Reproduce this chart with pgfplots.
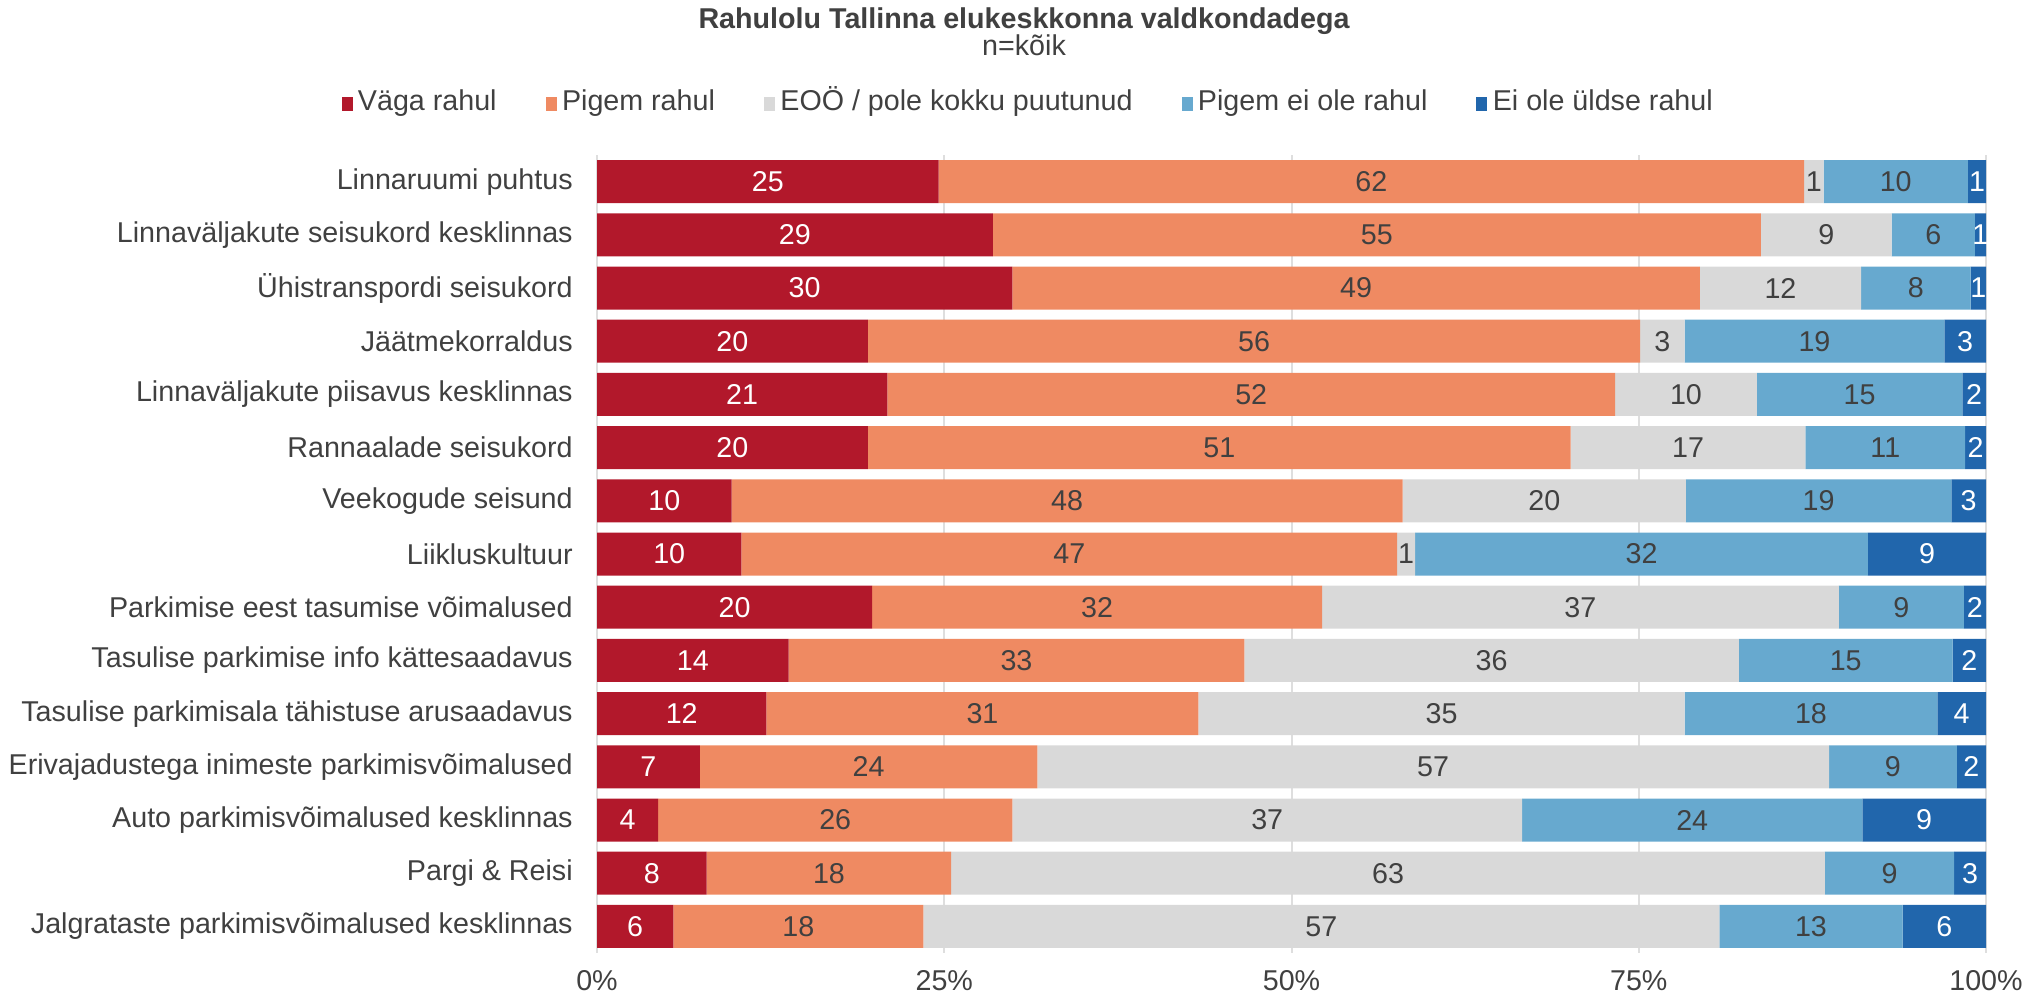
\documentclass[border=0pt]{standalone}
\usepackage{pgfplots}
\pgfplotsset{compat=1.18}
\usepackage{pgfplotstable}
\usepackage{fontspec}
\setmainfont{Liberation Sans}
\definecolor{c1}{HTML}{B2182B}
\definecolor{c2}{HTML}{EF8A62}
\definecolor{c3}{HTML}{D9D9D9}
\definecolor{c4}{HTML}{67A9CF}
\definecolor{c5}{HTML}{2166AC}
\definecolor{txt}{HTML}{404040}
\definecolor{gridc}{HTML}{DEDEDE}

\pgfplotstableread{
row v1 v2 v3 v4 v5 l1 l2 l3 l4 l5
1 24.6 62.3 1.4 10.4 1.3 25 62 1 10 1
2 28.5 55.3 9.4 6.0 0.8 29 55 9 6 1
3 29.9 49.5 11.6 7.9 1.1 30 49 12 8 1
4 19.5 55.6 3.2 18.7 3.0 20 56 3 19 3
5 20.9 52.4 10.2 14.8 1.7 21 52 10 15 2
6 19.5 50.6 16.9 11.5 1.5 20 51 17 11 2
7 9.7 48.3 20.4 19.1 2.5 10 48 20 19 3
8 10.4 47.2 1.3 32.6 8.5 10 47 1 32 9
9 19.8 32.4 37.2 9.0 1.6 20 32 37 9 2
10 13.8 32.8 35.6 15.4 2.4 14 33 36 15 2
11 12.2 31.1 35.0 18.2 3.5 12 31 35 18 4
12 7.4 24.3 57.0 9.2 2.1 7 24 57 9 2
13 4.4 25.5 36.7 24.5 8.9 4 26 37 24 9
14 7.9 17.6 62.9 9.3 2.3 8 18 63 9 3
15 5.5 18.0 57.3 13.2 6.0 6 18 57 13 6
}\data

\begin{document}
\begin{tikzpicture}[font=\fontsize{8.6}{10.3}\selectfont, text=txt]
\path[use as bounding box] (0,0) rectangle (612.6pt,-297.9pt);
\begin{axis}[
  at={(179.1pt,-285.9pt)}, anchor=south west,
  width=416.7pt, height=239.4pt, scale only axis,
  xbar stacked, bar width=12.9pt,
  xmin=0, xmax=100, ymin=0.5, ymax=15.5, y dir=reverse,
  xtick={0,25,50,75,100}, xticklabels={0\%,25\%,50\%,75\%,100\%},
  ytick={1,...,15},
  yticklabels={Linnaruumi puhtus,Linnaväljakute seisukord kesklinnas,Ühistranspordi seisukord,Jäätmekorraldus,Linnaväljakute piisavus kesklinnas,Rannaalade seisukord,Veekogude seisund,Liikluskultuur,Parkimise eest tasumise võimalused,Tasulise parkimise info kättesaadavus,Tasulise parkimisala tähistuse arusaadavus,Erivajadustega inimeste parkimisvõimalused,Auto parkimisvõimalused kesklinnas,Pargi \& Reisi,Jalgrataste parkimisvõimalused kesklinnas},
  major tick length=0pt,
  axis line style={draw=none},
  xmajorgrids, grid style={gridc, line width=0.6pt},
  xticklabel style={anchor=base, inner sep=0pt, yshift=-11.1pt, text=txt},
  yticklabel style={anchor=east, inner sep=0pt, xshift=-7.1pt, text=txt},
  point meta=explicit symbolic,
  nodes near coords,
  every node near coord/.append style={inner sep=0pt, text=txt},
  legend columns=5,
  legend style={at={(-0.1839,1.0642)}, anchor=west, draw=none, fill=none, inner sep=0pt, outer sep=0pt,
    nodes={inner sep=0pt, text height=6.45pt, text depth=2.15pt, text=txt},
    /tikz/every even column/.append style={column sep=14.7pt}},
  legend image code/.code={\fill[#1,draw=none] (0pt,-2.15pt) rectangle (3.3pt,1.95pt); \path (4.92pt,0pt);},
]
\addplot[fill=c1, draw=none, every node near coord/.append style={text=white}] table[x=v1, y=row, meta=l1] {\data};
\addplot[fill=c2, draw=none] table[x=v2, y=row, meta=l2] {\data};
\addplot[fill=c3, draw=none] table[x=v3, y=row, meta=l3] {\data};
\addplot[fill=c4, draw=none] table[x=v4, y=row, meta=l4] {\data};
\addplot[fill=c5, draw=none, every node near coord/.append style={text=white}] table[x=v5, y=row, meta=l5] {\data};
\legend{Väga rahul, Pigem rahul, EOÖ / pole kokku puutunud, Pigem ei ole rahul, Ei ole üldse rahul}
\end{axis}
\node[anchor=base, font=\fontsize{8.6}{10.3}\selectfont\bfseries] at (307.2pt,-8.5pt) {Rahulolu Tallinna elukeskkonna valdkondadega};
\node[anchor=base] at (307.2pt,-16.5pt) {n=kõik};
\end{tikzpicture}
\end{document}
